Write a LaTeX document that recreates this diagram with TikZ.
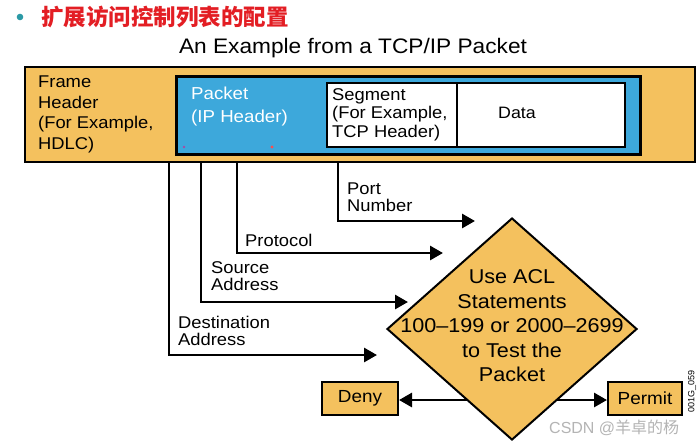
\documentclass[tikz,border=0pt]{standalone}
\usepackage{fontspec}
\setmainfont[FakeStretch=1.08]{Liberation Sans}
\newfontfamily\cjk{Noto Sans CJK SC}
\newfontfamily\plainsans{Liberation Sans}
\usetikzlibrary{arrows.meta,shapes.geometric}
\definecolor{aclorange}{HTML}{F4C15E}
\definecolor{aclblue}{HTML}{3DA8DB}
\definecolor{titlered}{HTML}{E31E24}
\definecolor{bulletc}{HTML}{2B9AA6}
\definecolor{wmgray}{HTML}{B4B4B4}
\begin{document}
\begin{tikzpicture}[x=1pt,y=-1pt,
  lbl/.style={inner sep=0pt,anchor=north west,align=left,font=\fontsize{17}{17}\selectfont},
  tip/.style={-{Triangle[length=13pt,width=14pt]}},
  conn/.style={line width=2.8pt,tip},
  resbox/.style={draw,line width=2pt,fill=aclorange,minimum width=76pt,minimum height=33pt,inner sep=0pt,font=\fontsize{17.5}{20}\selectfont}]
\useasboundingbox (0,0) rectangle (700,447);
\fill[white] (0,0) rectangle (700,447);
% title
\fill[bulletc] (20,17) circle (3.3pt);
\node[anchor=west,inner sep=0pt,text=titlered,font=\cjk\bfseries\fontsize{22.5}{25}\selectfont] (title) at (41,17) {扩展访问控制列表的配置};
\node[inner sep=0pt,font=\fontsize{21}{24}\selectfont] (sub) at (353,48) {An Example from a TCP/IP Packet};
% boxes
\node[draw,line width=2.2pt,fill=aclorange,minimum width=670pt,minimum height=95pt,inner sep=0pt] (frame) at (360,114.5) {};
\node[draw,line width=3pt,fill=aclblue,minimum width=464pt,minimum height=78pt,inner sep=0pt] (packet) at (408,115) {};
\node[draw,line width=1.2pt,fill=white,minimum width=298pt,minimum height=64pt,inner sep=0pt] (segment) at (476,115) {};
\draw[line width=1.2pt] (457,83) -- (457,147);
\fill[violet!70] (184,147) circle (1.4pt);
\fill[red!70] (272,147) circle (1.6pt);
% texts in boxes
\node[lbl,font=\fontsize{17}{20.5}\selectfont] (ftext) at (38,76) {Frame\\Header\\(For Example,\\HDLC)};
\node[lbl,text=white,font=\fontsize{17.3}{23}\selectfont] (ptext) at (191,87) {Packet\\(IP Header)};
\node[lbl,font=\fontsize{17}{18.5}\selectfont] (stext) at (332,88) {Segment\\(For Example,\\TCP Header)};
\node[inner sep=0pt,font=\fontsize{16.5}{20}\selectfont] (data) at (517,113) {Data};
% connector start points
\coordinate (s1) at (338,162);
\coordinate (s2) at (237,162);
\coordinate (s3) at (201,162);
\coordinate (s4) at (169,162);
\coordinate (e1) at (475,221);
\coordinate (e2) at (443,253);
\coordinate (e3) at (408,302);
\coordinate (e4) at (377,355);
\draw[conn] (s1) |- (e1);
\draw[conn] (s2) |- (e2);
\draw[conn] (s3) |- (e3);
\draw[conn] (s4) |- (e4);
\node[lbl] (lport) at (347,183) {Port\\Number};
\node[lbl] (lproto) at (245,234) {Protocol};
\node[lbl] (lsrc) at (211,261) {Source\\Address};
\node[lbl] (ldst) at (178,316) {Destination\\Address};
% diamond
\node[diamond,draw,line width=2pt,fill=aclorange,minimum width=250pt,minimum height=222pt,inner sep=0pt,
  label={[align=center,inner sep=0pt,yshift=3pt,font=\fontsize{20}{24.5}\selectfont]center:{Use ACL\\Statements\\100–199 or 2000–2699\\to Test the\\Packet}}] (acl) at (512,329) {};
\node[resbox] (deny) at (360,398.5) {Deny};
\node[resbox,minimum width=74pt] (permit) at (645,398.5) {Permit};
\coordinate (dl) at (467,400);
\coordinate (dr) at (557,400);
\draw[conn] (dl) -- (deny.east |- dl);
\draw[conn] (dr) -- (permit.west |- dr);
\node[rotate=90,inner sep=0pt,font=\plainsans\fontsize{9}{10}\selectfont] (code) at (692,391) {001G\_059};
\node[anchor=west,inner sep=0pt,text=wmgray,font=\plainsans\fontsize{16}{18}\selectfont] (wm) at (549,428) {CSDN @{\cjk 羊卓的杨}};
\end{tikzpicture}
\end{document}
